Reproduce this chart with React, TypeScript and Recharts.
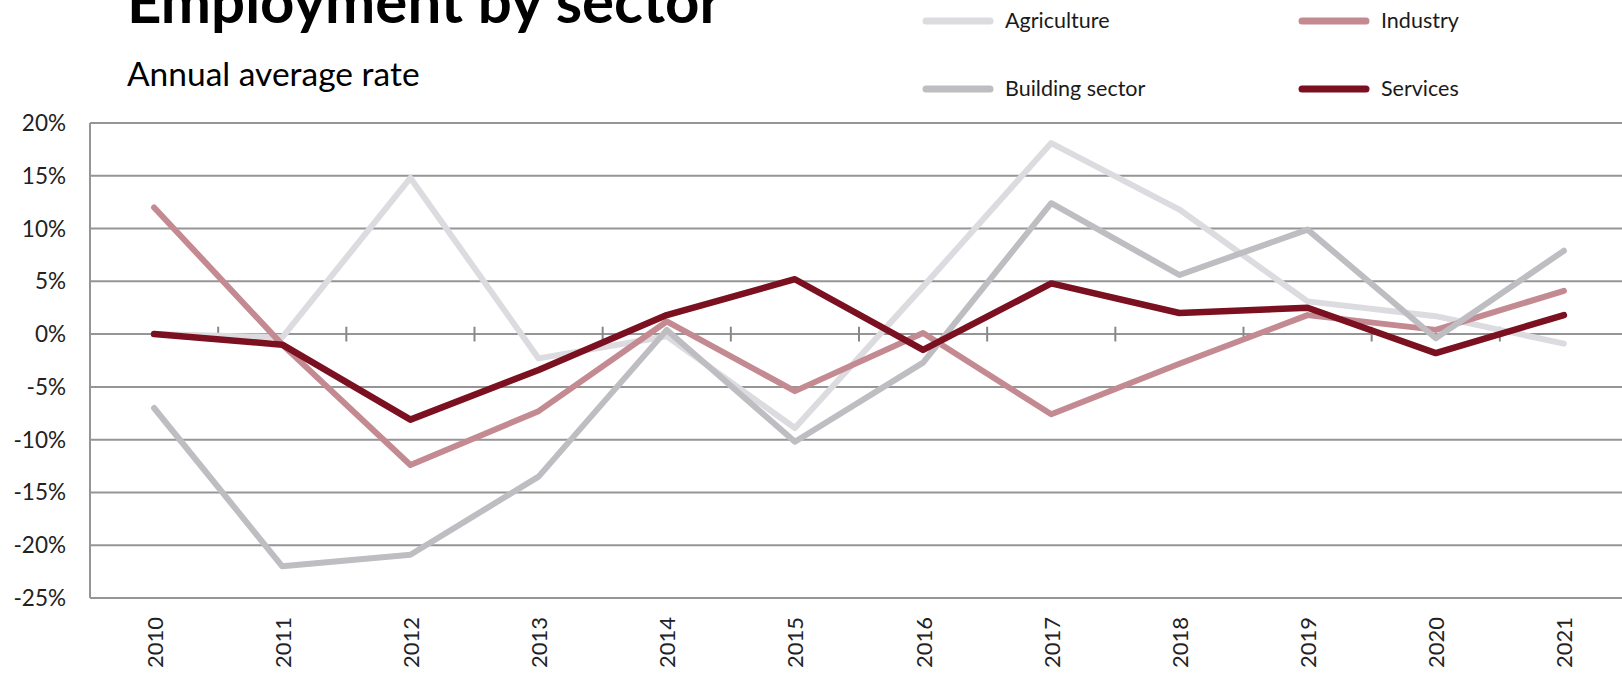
import {
  CartesianGrid,
  Line,
  LineChart,
  ReferenceLine,
  XAxis,
  YAxis,
} from "recharts";

// annual average rate of change, %
const years = ["2010", "2011", "2012", "2013", "2014", "2015", "2016", "2017", "2018", "2019", "2020", "2021"];
const agriculture = [0, -0.3, 14.8, -2.3, -0.2, -8.9, 4.5, 18.1, 11.8, 3.1, 1.7, -0.9];
const industry = [12.0, -1.0, -12.4, -7.3, 1.2, -5.4, 0.1, -7.6, -2.8, 1.8, 0.4, 4.1];
const building = [-7.0, -22.0, -20.9, -13.5, 0.4, -10.2, -2.7, 12.4, 5.6, 9.9, -0.4, 7.9];
const services = [0, -1.0, -8.1, -3.4, 1.8, 5.2, -1.5, 4.8, 2.0, 2.5, -1.8, 1.8];
const yTicks = [-25, -20, -15, -10, -5, 0, 5, 10, 15, 20];

const series = [
  { key: "agriculture", name: "Agriculture", color: "#dcdce0", width: 6 },
  { key: "industry", name: "Industry", color: "#c48a92", width: 6 },
  { key: "building", name: "Building sector", color: "#bebec2", width: 6 },
  { key: "services", name: "Services", color: "#7a1020", width: 6.5 },
];

// x is the year's position, so the axis can be numeric and hold
// the small marks halfway between years
const data = years.map((year, i) => ({
  idx: i,
  year,
  agriculture: agriculture[i],
  industry: industry[i],
  building: building[i],
  services: services[i],
}));

const yearIdx = years.map((_, i) => i);
const betweenTicks = years.slice(1).map((_, i) => i + 0.5);

const FONT = "Lato, 'Open Sans', sans-serif";
const GRID = "#959595";

const YearTick = (props: any) => {
  const { x, y, payload } = props;
  return (
    <text
      x={x}
      y={y}
      transform={`rotate(-90 ${x} ${y})`}
      textAnchor="end"
      dominantBaseline="central"
      fontSize={22}
      fontFamily={FONT}
      fill="#222"
    >
      {years[payload.value]}
    </text>
  );
};

export default function App() {
  return (
    <div
      style={{
        position: "absolute",
        left: 0,
        top: 0,
        width: 1622,
        height: 673,
        overflow: "hidden",
        background: "#fff",
        fontFamily: FONT,
      }}
    >
      <LineChart
        width={1628}
        height={673}
        data={data}
        margin={{ top: 123, right: 0, bottom: 0, left: 0 }}
      >
        <CartesianGrid vertical={false} stroke={GRID} strokeWidth={2} />
        <XAxis
          dataKey="idx"
          type="number"
          domain={[-0.5, years.length - 0.5]}
          allowDataOverflow
          ticks={yearIdx}
          interval={0}
          height={75}
          axisLine={false}
          tickLine={false}
          tickSize={0}
          tickMargin={19}
          tick={<YearTick />}
        />
        <YAxis
          width={90}
          domain={[-25, 20]}
          ticks={yTicks}
          interval={0}
          tickLine={false}
          tickSize={0}
          tickMargin={24}
          axisLine={{ stroke: GRID, strokeWidth: 2 }}
          tick={{ fill: "#222", fontSize: 22.5, fontFamily: FONT }}
          tickFormatter={(v) => `${v}%`}
        />
        {betweenTicks.map((t) => (
          <ReferenceLine
            key={t}
            segment={[
              { x: t, y: -0.7 },
              { x: t, y: 0.7 },
            ]}
            stroke="#888"
            strokeWidth={2}
            ifOverflow="visible"
          />
        ))}
        {series.map((s) => (
          <Line
            key={s.key}
            type="linear"
            dataKey={s.key}
            name={s.name}
            stroke={s.color}
            strokeWidth={s.width}
            strokeLinejoin="round"
            strokeLinecap="round"
            dot={false}
            activeDot={false}
            isAnimationActive={false}
          />
        ))}
      </LineChart>

      <svg
        width={1622}
        height={673}
        style={{ position: "absolute", left: 0, top: 0, pointerEvents: "none" }}
      >
        <text x={127} y={23} fontSize={60} fontWeight={700} fontFamily={FONT} fill="#000">
          Employment by sector
        </text>
        <text x={127} y={86} fontSize={33.5} fontFamily={FONT} fill="#000">
          Annual average rate
        </text>
        {series.map((s, i) => {
          const col = i % 2;
          const row = Math.floor(i / 2);
          const lx = 926 + col * 376;
          const ly = 21 + row * 68;
          return (
            <g key={s.key}>
              <line
                x1={lx}
                x2={lx + 64}
                y1={ly}
                y2={ly}
                stroke={s.color}
                strokeWidth={7}
                strokeLinecap="round"
              />
              <text
                x={lx + 79}
                y={ly - 1}
                dominantBaseline="central"
                fontSize={21.5}
                fontFamily={FONT}
                fill="#1a1a1a"
              >
                {s.name}
              </text>
            </g>
          );
        })}
      </svg>
    </div>
  );
}
